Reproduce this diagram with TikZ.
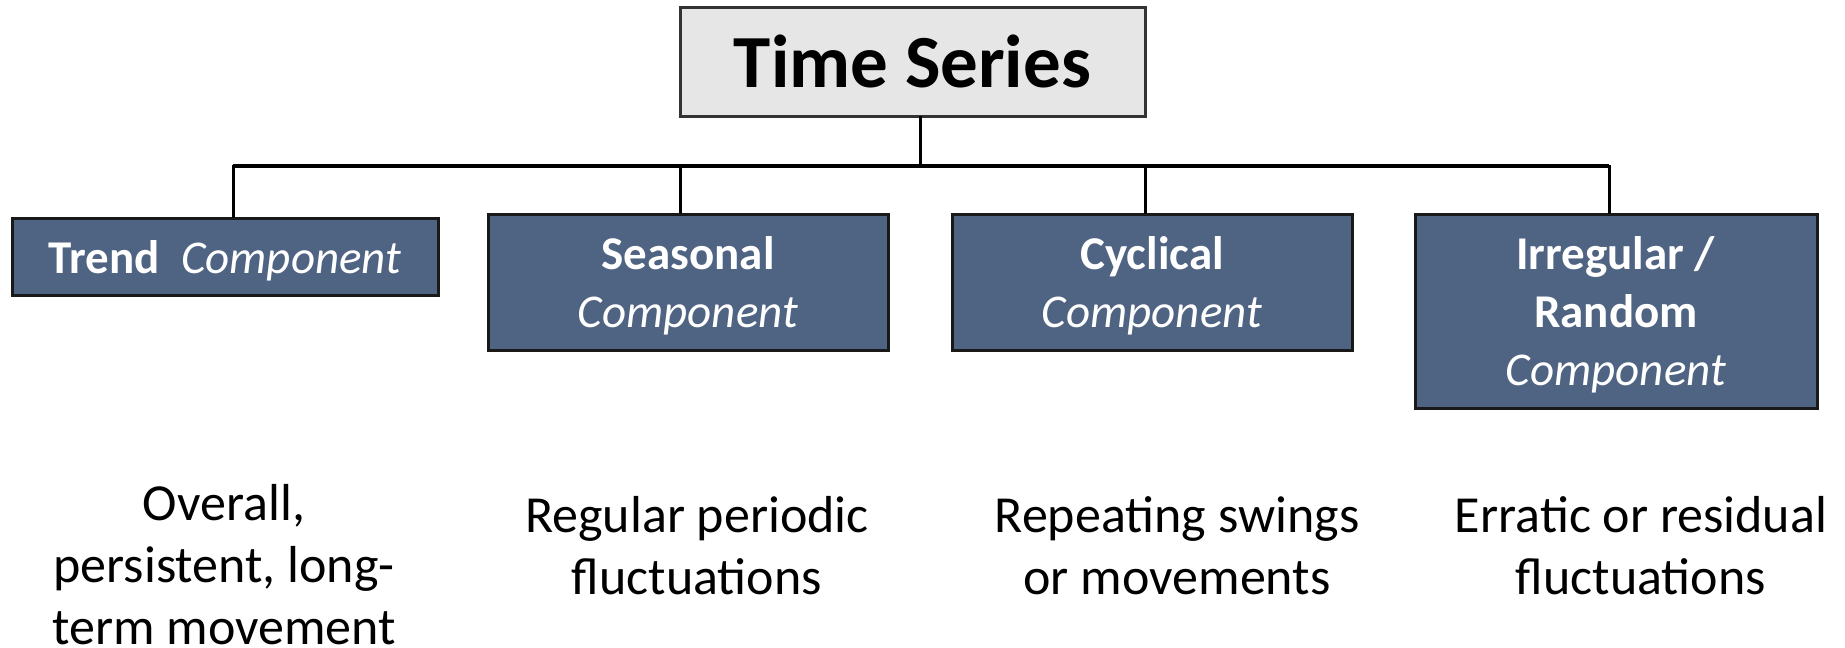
\documentclass[tikz,border=0pt]{standalone}
\usepackage{fontspec}
\setmainfont{Carlito}
\definecolor{boxblue}{HTML}{4F6382}
\definecolor{tsgray}{HTML}{E6E6E6}
\newcommand\pushdn[1]{\raisebox{0pt}[\dimexpr\height+8pt\relax]{#1}}
\tikzset{
  x=1pt, y=-1pt,
  compbox/.style={draw=black!90, line width=3pt, fill=boxblue, text=white,
    align=center, inner sep=0pt, font=\fontsize{47}{58}\selectfont},
  tsbox/.style={draw=black!80, line width=3pt, fill=tsgray, inner sep=0pt,
    font=\fontsize{75}{90}\selectfont\bfseries},
  desc/.style={align=center, inner sep=0pt, font=\fontsize{52}{62}\selectfont},
  link/.style={line width=3pt, line cap=rect},
  bus/.style={line width=4pt}
}
\begin{document}
\begin{tikzpicture}
\useasboundingbox (0,0) rectangle (1845,648);
\node[tsbox, minimum width=465pt, minimum height=109pt] (ts) at (912.5,61.5) {Time Series};
\node[compbox, minimum width=426pt, minimum height=77pt] (trend) at (225,256.5) {\pushdn{\textbf{Trend}\ \ \textit{Component}}};
\node[compbox, minimum width=400pt, minimum height=136pt] (seas) at (688,282) {\pushdn{\textbf{Seasonal}}\\\textit{Component}};
\node[compbox, minimum width=400pt, minimum height=136pt] (cyc) at (1152,282) {\pushdn{\textbf{Cyclical}}\\\textit{Component}};
\node[compbox, minimum width=402pt, minimum height=194pt] (irr) at (1616,311) {\pushdn{\textbf{Irregular /}}\\\textbf{Random}\\\textit{Component}};
\coordinate (j0) at (920,166);
\coordinate (j1) at (233,166);
\coordinate (j2) at (680,166);
\coordinate (j3) at (1145,166);
\coordinate (j4) at (1609,166);
\draw[link] (j0 |- ts.south) -- (j0);
\draw[bus] (j1) -- (j4);
\draw[link] (j1) -- (j1 |- trend.north);
\draw[link] (j2) -- (j2 |- seas.north);
\draw[link] (j3) -- (j3 |- cyc.north);
\draw[link] (j4) -- (j4 |- irr.north);
\node[desc] (d1) at (224,565) {Overall,\\persistent, long-\\term movement};
\node[desc] (d2) at (697,546) {Regular periodic\\fluctuations};
\node[desc] (d3) at (1177,546) {Repeating swings\\or movements};
\node[desc] (d4) at (1641,546) {Erratic or residual\\fluctuations};
\end{tikzpicture}
\end{document}
